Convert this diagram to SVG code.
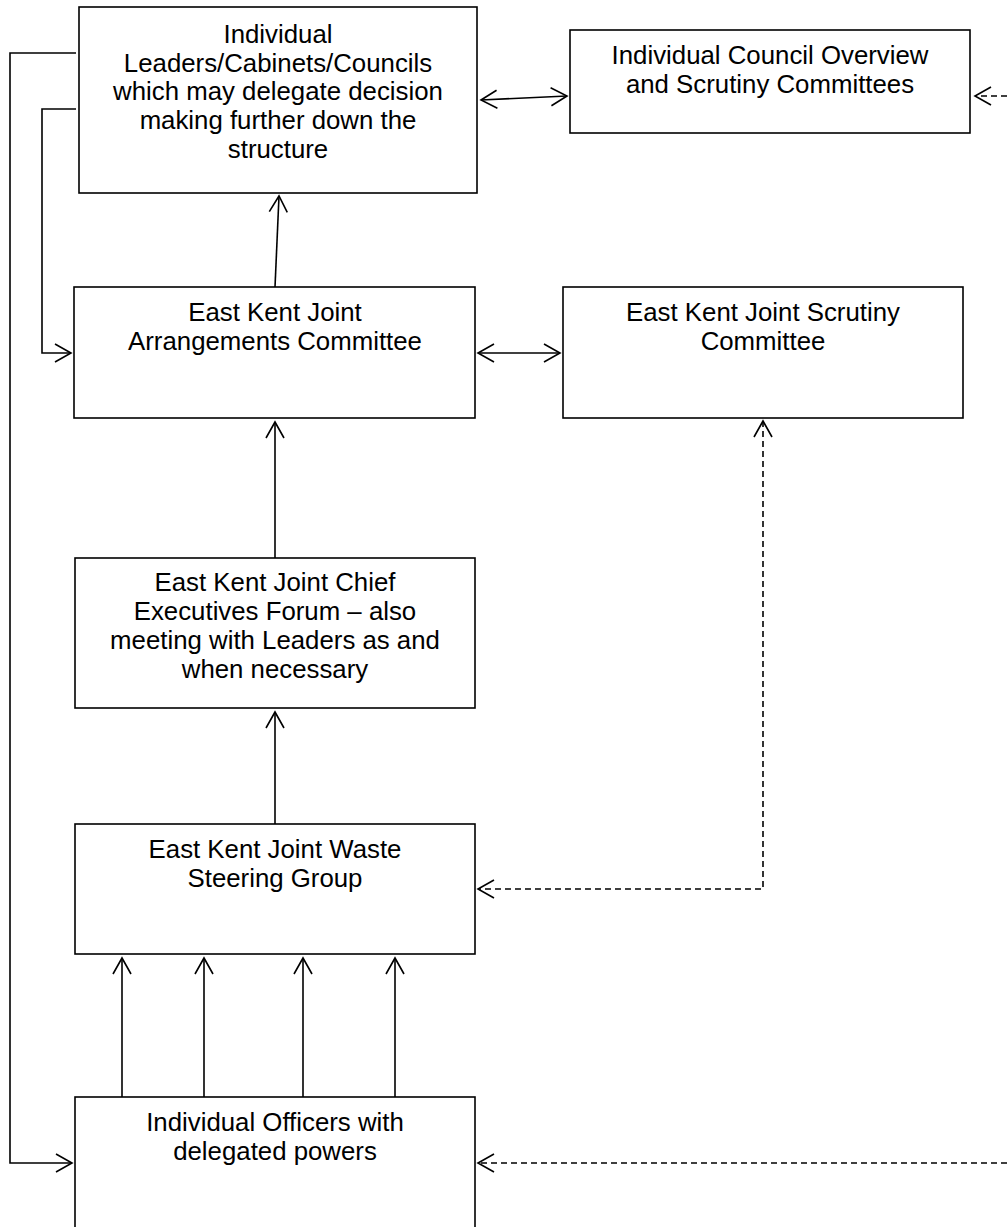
<svg xmlns="http://www.w3.org/2000/svg" width="1007" height="1227" viewBox="0 0 1007 1227">
<defs>
<style>
.box{fill:#fff;stroke:#000;stroke-width:1.6}
.t{font-family:"Liberation Sans",Arial,sans-serif;font-size:25.8px;fill:#000;text-anchor:middle}
.c{fill:none;stroke:#000;stroke-width:1.6}
.d{fill:none;stroke:#000;stroke-width:1.6;stroke-dasharray:6 4}
</style>
<marker id="ah" markerUnits="userSpaceOnUse" viewBox="-18 -11 20 22" refX="0" refY="0" markerWidth="20" markerHeight="22" orient="auto-start-reverse">
<path d="M-16,-9 L0,0 L-16,9" fill="none" stroke="#000" stroke-width="1.6"/>
</marker>
</defs>
<rect width="1007" height="1227" fill="#fff"/>
<g id="connectors">
<path class="c" d="M76,53 H10 V1163 H72" marker-end="url(#ah)"/>
<path class="c" d="M76,109 H42 V353 H71" marker-end="url(#ah)"/>
<path class="c" d="M481,100 L567,96" marker-start="url(#ah)" marker-end="url(#ah)"/>
<path class="d" d="M1007,96 H975" marker-end="url(#ah)"/>
<path class="c" d="M275,287 L279,196" marker-end="url(#ah)"/>
<path class="c" d="M478,353 H560" marker-start="url(#ah)" marker-end="url(#ah)"/>
<path class="c" d="M275,558 V422" marker-end="url(#ah)"/>
<path class="c" d="M275,824 V712" marker-end="url(#ah)"/>
<path class="d" d="M763,421 V889 H478" marker-start="url(#ah)" marker-end="url(#ah)"/>
<path class="c" d="M122,1097 V958" marker-end="url(#ah)"/>
<path class="c" d="M204,1097 V958" marker-end="url(#ah)"/>
<path class="c" d="M303,1097 V958" marker-end="url(#ah)"/>
<path class="c" d="M395,1097 V958" marker-end="url(#ah)"/>
<path class="d" d="M1007,1163 H478" marker-end="url(#ah)"/>
</g>
<g id="n-leaders">
<rect class="box" x="79" y="7" width="398" height="186"/>
<text class="t" x="278" y="43">Individual</text>
<text class="t" x="278" y="72">Leaders/Cabinets/Councils</text>
<text class="t" x="278" y="100">which may delegate decision</text>
<text class="t" x="278" y="129">making further down the</text>
<text class="t" x="278" y="158">structure</text>
</g>
<g id="n-overview">
<rect class="box" x="570" y="30" width="400" height="103"/>
<text class="t" x="770" y="64">Individual Council Overview</text>
<text class="t" x="770" y="93">and Scrutiny Committees</text>
</g>
<g id="n-ekjac">
<rect class="box" x="74" y="287" width="401" height="131"/>
<text class="t" x="275" y="321">East Kent Joint</text>
<text class="t" x="275" y="350">Arrangements Committee</text>
</g>
<g id="n-scrutiny">
<rect class="box" x="563" y="287" width="400" height="131"/>
<text class="t" x="763" y="321">East Kent Joint Scrutiny</text>
<text class="t" x="763" y="350">Committee</text>
</g>
<g id="n-chief">
<rect class="box" x="75" y="558" width="400" height="150"/>
<text class="t" x="275" y="591">East Kent Joint Chief</text>
<text class="t" x="275" y="620">Executives Forum – also</text>
<text class="t" x="275" y="649">meeting with Leaders as and</text>
<text class="t" x="275" y="678">when necessary</text>
</g>
<g id="n-waste">
<rect class="box" x="75" y="824" width="400" height="130"/>
<text class="t" x="275" y="858">East Kent Joint Waste</text>
<text class="t" x="275" y="887">Steering Group</text>
</g>
<g id="n-officers">
<rect class="box" x="75" y="1097" width="400" height="150"/>
<text class="t" x="275" y="1131">Individual Officers with</text>
<text class="t" x="275" y="1160">delegated powers</text>
</g>
</svg>
